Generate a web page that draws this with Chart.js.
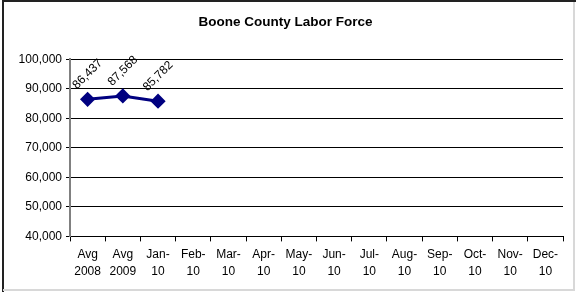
<!DOCTYPE html>
<html>
<head>
<meta charset="utf-8">
<script src="https://cdn.jsdelivr.net/npm/chart.js@4"></script>
<style>
html,body{margin:0;padding:0;background:#fff;}
#wrap{position:absolute;left:0;top:0;width:576px;height:292px;}
</style>
</head>
<body>
<div id="wrap"><canvas id="c" width="576" height="292"></canvas></div>
<script>
const categories = [
  ['Avg','2008'],['Avg','2009'],['Jan-','10'],['Feb-','10'],['Mar-','10'],['Apr-','10'],
  ['May-','10'],['Jun-','10'],['Jul-','10'],['Aug-','10'],['Sep-','10'],['Oct-','10'],
  ['Nov-','10'],['Dec-','10']
];
const laborForce = [86437, 87568, 85782, null, null, null, null, null, null, null, null, null, null, null];
const yMin = 40000, yMax = 100000, yStep = 10000;
const titleText = 'Boone County Labor Force';

const FONT = '"Liberation Sans", Arial, sans-serif';

const frame = {
  id: 'frame',
  beforeDraw(chart) {
    const ctx = chart.ctx;
    ctx.save();
    ctx.fillStyle = '#fff';
    ctx.fillRect(0, 0, chart.width, chart.height);
    ctx.lineWidth = 2;
    ctx.strokeStyle = '#222';
    ctx.beginPath();
    ctx.moveTo(3, chart.height);
    ctx.lineTo(3, 1);
    ctx.lineTo(chart.width, 1);
    ctx.stroke();
    ctx.lineWidth = 2;
    ctx.strokeStyle = '#d8d8d8';
    ctx.beginPath();
    ctx.moveTo(574, 2);
    ctx.lineTo(574, 290);
    ctx.lineTo(3, 290);
    ctx.stroke();
    ctx.restore();
  }
};

const dataLabels = {
  id: 'dataLabels',
  afterDatasetsDraw(chart) {
    const ctx = chart.ctx;
    const meta = chart.getDatasetMeta(0);
    const ds = chart.data.datasets[0].data;
    ctx.save();
    ctx.font = '12px ' + FONT;
    ctx.fillStyle = '#000';
    ctx.textAlign = 'center';
    ctx.textBaseline = 'middle';
    meta.data.forEach((pt, i) => {
      if (ds[i] == null) return;
      ctx.save();
      ctx.translate(pt.x, pt.y - 25);
      ctx.rotate(-Math.PI / 4);
      ctx.fillText(ds[i].toLocaleString('en-US'), 0, 0);
      ctx.restore();
    });
    ctx.restore();
  }
};

new Chart(document.getElementById('c'), {
  type: 'line',
  data: {
    labels: categories,
    datasets: [{
      data: laborForce,
      borderColor: '#000080',
      backgroundColor: '#000080',
      borderWidth: 3,
      pointStyle: 'rectRot',
      pointRadius: 5.5,
      pointHoverRadius: 5.5,
      pointBackgroundColor: '#000080',
      pointBorderColor: '#000080',
      tension: 0,
      spanGaps: false
    }]
  },
  options: {
    responsive: false,
    animation: false,
    devicePixelRatio: 1,
    layout: { padding: { left: 8, right: 13, top: 0, bottom: 7 } },
    plugins: {
      legend: { display: false },
      tooltip: { enabled: false },
      title: {
        display: true,
        text: titleText,
        color: '#000',
        font: { family: FONT, size: 13.5, weight: 'bold', lineHeight: 1.2 },
        padding: { top: 14, bottom: 29 }
      }
    },
    scales: {
      x: {
        offset: true,
        grid: { offset: true, drawOnChartArea: false, drawTicks: true, tickLength: 5, color: '#000' },
        border: { color: '#000', width: 1 },
        ticks: {
          color: '#000', font: { family: FONT, size: 12, lineHeight: 1.4 },
          maxRotation: 0, autoSkip: false, padding: 5
        }
      },
      y: {
        min: yMin, max: yMax,
        grid: { color: '#000', tickLength: 4, drawTicks: true },
        border: { color: '#808080', width: 2 },
        ticks: {
          stepSize: yStep, color: '#000', padding: 4,
          font: { family: FONT, size: 12 },
          callback: v => v.toLocaleString('en-US')
        },
        afterFit(s) { s.width = 62; }
      }
    }
  },
  plugins: [frame, dataLabels]
});
</script>
</body>
</html>
